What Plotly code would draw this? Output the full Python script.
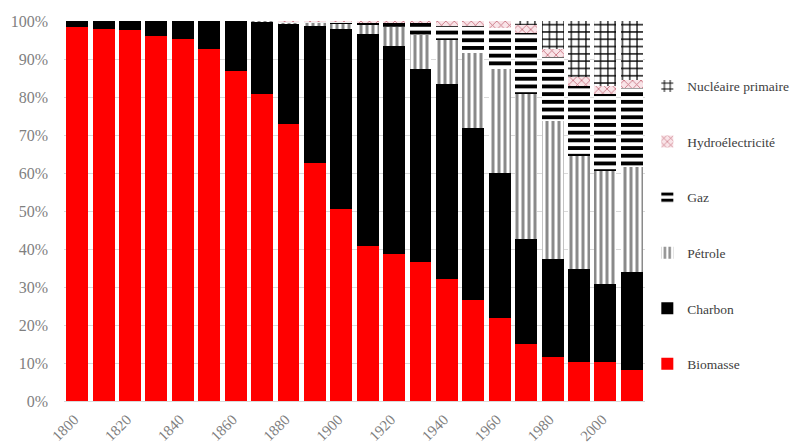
import plotly.graph_objects as go

years = [1800, 1810, 1820, 1830, 1840, 1850, 1860, 1870, 1880, 1890, 1900,
         1910, 1920, 1930, 1940, 1950, 1960, 1970, 1980, 1990, 2000, 2010]

biomasse = [98.3, 97.9, 97.6, 96.0, 95.2, 92.6, 86.8, 80.9, 73.0, 62.6, 50.6,
            40.9, 38.7, 36.5, 32.1, 26.7, 21.8, 15.0, 11.6, 10.3, 10.3, 8.1]
charbon = [1.7, 2.1, 2.4, 4.0, 4.8, 7.4, 13.2, 19.0, 26.4, 36.2, 47.3,
           55.6, 54.7, 50.9, 51.4, 45.1, 38.2, 27.7, 25.9, 24.5, 20.4, 25.9]
petrole = [0, 0, 0, 0, 0, 0, 0, 0.1, 0.3, 0.9, 1.4,
           2.5, 5.0, 8.9, 11.6, 19.9, 27.4, 38.1, 36.1, 29.6, 29.9, 27.7]
gaz = [0, 0, 0, 0, 0, 0, 0, 0, 0.1, 0.1, 0.5,
       0.6, 1.2, 3.3, 3.5, 7.1, 10.8, 16.0, 16.9, 18.6, 20.3, 20.7]
hydro = [0, 0, 0, 0, 0, 0, 0, 0, 0.2, 0.2, 0.2,
         0.4, 0.4, 0.4, 1.4, 1.2, 1.8, 2.2, 2.1, 2.2, 2.1, 2.2]
nucleaire = [0, 0, 0, 0, 0, 0, 0, 0, 0, 0, 0,
             0, 0, 0, 0, 0, 0, 1.0, 7.4, 14.8, 17.0, 15.4]

tick_years = [1800, 1820, 1840, 1860, 1880, 1900, 1920, 1940, 1960, 1980, 2000]
tick_labels = [str(y) for y in tick_years]
y_ticks = list(range(0, 101, 10))
y_labels = [f"{v}%" for v in y_ticks]

FONT = "Liberation Serif"

series = [
    ("Biomasse", biomasse, dict(color="#ff0000")),
    ("Charbon", charbon, dict(color="#000000")),
    ("Pétrole", petrole, dict(color="white",
                               pattern=dict(shape="|", fgcolor="#8a8a8a", bgcolor="white",
                                            size=6, solidity=0.5, fillmode="replace"))),
    ("Gaz", gaz, dict(color="white",
                      pattern=dict(shape="-", fgcolor="#000000", bgcolor="white",
                                   size=7.7, solidity=0.5, fillmode="replace"))),
    ("Hydroélectricité", hydro, dict(color="#f7dce2",
                                      pattern=dict(shape="x", fgcolor="#c46a78", bgcolor="#f9e4e8",
                                                   size=6, solidity=0.25, fillmode="replace"))),
    ("Nucléaire primaire", nucleaire, dict(color="white",
                                            pattern=dict(shape="+", fgcolor="#000000", bgcolor="white",
                                                         size=7.3, solidity=0.3, fillmode="replace"))),
]

fig = go.Figure()
n = len(series)
for i, (name, vals, marker) in enumerate(series):
    marker = dict(marker)
    marker["line"] = dict(width=0)
    fig.add_trace(go.Bar(x=years, y=vals, name=name, marker=marker,
                         legendgroup=f"g{i}", legendrank=n - i))

fig.update_layout(
    width=795, height=443,
    barmode="stack", bargap=0.17,
    plot_bgcolor="white", paper_bgcolor="white",
    margin=dict(l=64, r=150, t=21, b=42, autoexpand=False),
    font=dict(family=FONT, color="#7f7f7f"),
    showlegend=True,
    legend=dict(traceorder="grouped", x=1.004, xanchor="left", y=0.869, yanchor="top",
                font=dict(family=FONT, size=13.5, color="#404040"),
                tracegroupgap=35, itemwidth=30, bgcolor="rgba(0,0,0,0)"),
)
fig.update_xaxes(range=[1795, 2015], tickmode="array", tickvals=tick_years,
                 ticktext=tick_labels, tickangle=-45, showgrid=False, automargin=False,
                 showline=True, linecolor="#d9d9d9", linewidth=1,
                 tickfont=dict(family=FONT, size=15, color="#7f7f7f"), ticks="",
                 ticklabelstandoff=3, ticklabelshift=-3)
fig.update_yaxes(range=[0, 100], tickmode="array", tickvals=y_ticks, ticktext=y_labels,
                 showgrid=True, gridcolor="#d9d9d9", gridwidth=1, zeroline=False,
                 automargin=False,
                 tickfont=dict(family=FONT, size=16, color="#7f7f7f"),
                 ticklabelstandoff=15)

fig.write_html("out.html", config={"displayModeBar": False},
               post_script="document.body.style.margin='0px';document.body.style.padding='0px';")
